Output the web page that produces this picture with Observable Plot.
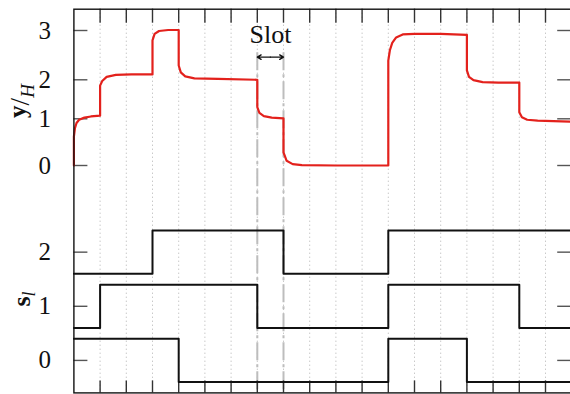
<!DOCTYPE html>
<html><head><meta charset="utf-8">
<script src="https://cdn.jsdelivr.net/npm/d3@7"></script>
<script src="https://cdn.jsdelivr.net/npm/@observablehq/plot@0.6"></script>
<style>
html,body{margin:0;padding:0;background:#fff;overflow:hidden;}
#chart{width:570px;height:394px;overflow:hidden;}
#chart svg{max-width:none !important;}
</style></head><body><div id="chart"></div>
<script>
// Slot boundaries (x in slot units)
const slotEdges = [0,1,2,3,4,5,6,7,8,9,10,11,12,13,14,15,16,17,18,19];
const gridTicks = [1,2,3,4,5,6,7,8,9,10,11,12,13,14,15,16,17,18];
// switching states per slot for s_0, s_1, s_2
const s0 = [1,1,1,1,0,0,0,0,0,0,0,0,1,1,1,0,0,0,0];
const s1 = [0,1,1,1,1,1,1,0,0,0,0,0,1,1,1,1,1,0,0];
const s2 = [0,0,0,1,1,1,1,1,0,0,0,0,1,1,1,1,1,1,1];
// normalised response y/H
const respX = [0,0,0.04,0.1,0.2,0.4,0.65,1, 1,1.08,1.25,1.6,2.2,3, 3,3.08,3.25,3.6,4,
  4,4.08,4.25,4.6,5.5,7, 7,7.08,7.25,7.55,8, 8,8.12,8.35,8.7,10,12,
  12,12.06,12.15,12.3,12.55,13,14,15, 15,15.08,15.25,15.6,16.2,17, 17,17.1,17.3,17.7,18.3,19];
const respY = [0,0.62,0.8,0.91,0.98,1.03,1.06,1.08, 1.85,1.97,2.06,2.1,2.11,2.11, 2.8,2.93,2.99,3.01,3.01,
  2.29,2.15,2.07,2.03,2.02,2.0, 1.3,1.15,1.07,1.03,1.01, 0.28,0.1,0.03,0.01,0,0,
  2.39,2.6,2.75,2.86,2.92,2.93,2.93,2.91, 2.19,2.06,1.99,1.94,1.93,1.93, 1.17,1.04,0.98,0.96,0.95,0.94];
const yTicks = [0,1,2,3];
const sTicks = [0,1,2];
const slotMarks = [7,8];
const slotLabel = "Slot";

const sOffset = -5;      // lower panel placed below upper panel on the shared axis
const sAmp = 0.4;

const response = respX.map((x,i)=>({x, y: respY[i]}));
const switches = [];
[s0,s1,s2].forEach((arr,l)=>{
  slotEdges.forEach((x,i)=>{
    const st = arr[Math.min(i, arr.length-1)];
    switches.push({l, x, y: sOffset + l + (st ? sAmp : -sAmp)});
  });
});
const sTickVals = sTicks.map(v=>v+sOffset);
const allTicks = [...yTicks, ...sTickVals];

const W = 572, H = 394;
const mL = 73.4, mR = 0.8, mT = 8.7, mB = 1.6;
const fw = W - mL - mR, fh = H - mT - mB;
const FONT = "'Liberation Serif', 'Times New Roman', serif";

const chart = Plot.plot({
  width: W, height: H,
  marginLeft: mL, marginRight: mR, marginTop: mT, marginBottom: mB,
  style: {fontFamily: FONT, background: "#fff", maxWidth: "none"},
  x: {domain: [0,19], axis: null},
  y: {type: "linear", domain: [-5.6, -2.6, 0, 1, 2, 3, 3.43],
      range: [392.4, 230, 165, 118.3, 79.3, 30, 8.7], axis: null},
  marks: [
    Plot.ruleX(gridTicks, {x: d=>d, stroke: "#b0b0b0", strokeWidth: 1, strokeDasharray: "1,3"}),
    Plot.ruleX(slotMarks, {x: d=>d, y1: 2.55, y2: -5.6, stroke: "#bdbdbd", strokeWidth: 2, strokeDasharray: "18,4,3,4"}),
    // y ticks inside (left and right)
    Plot.tickY(allTicks, {y: d=>d, insetRight: fw - 14, stroke: "#555", strokeWidth: 1.4}),
    Plot.tickY(allTicks, {y: d=>d, insetLeft: fw - 14, stroke: "#555", strokeWidth: 1.4}),
    // x ticks inside (top and bottom)
    Plot.tickX(gridTicks, {x: d=>d, insetBottom: fh - 14, stroke: "#333", strokeWidth: 1.4}),
    Plot.tickX(gridTicks, {x: d=>d, insetTop: fh - 12, stroke: "#333", strokeWidth: 1.4}),
    // tick labels
    Plot.text(yTicks, {y: d=>d, frameAnchor: "left", dx: -23, textAnchor: "end", text: d=>String(d), fontSize: 25, fontFamily: FONT, fill: "#111"}),
    Plot.text(sTickVals, {y: d=>d, frameAnchor: "left", dx: -23, textAnchor: "end", text: d=>String(d - sOffset), fontSize: 25, fontFamily: FONT, fill: "#111"}),
    // switching signals
    Plot.line(switches, {x: "x", y: "y", z: "l", curve: "step-after", stroke: "#111", strokeWidth: 2}),
    // response
    Plot.line(response, {x: "x", y: "y", stroke: "#e3211c", strokeWidth: 2.2}),
    // slot annotation
    Plot.arrow([slotMarks], {x1: d=>(d[0]+d[1])/2, x2: d=>d[0], y1: 2.46, y2: 2.46, stroke: "#111", strokeWidth: 1.4, headLength: 7, insetEnd: 0}),
    Plot.arrow([slotMarks], {x1: d=>(d[0]+d[1])/2, x2: d=>d[1], y1: 2.46, y2: 2.46, stroke: "#111", strokeWidth: 1.4, headLength: 7, insetEnd: 0}),
    Plot.text([slotMarks], {x: d=>(d[0]+d[1])/2, y: 2.92, text: () => slotLabel, fontSize: 26, fontFamily: FONT, fill: "#111"}),
    // frame (left, top, bottom; right border lies outside the window)
    Plot.frame({stroke: "#111", strokeWidth: 1.4})
  ]
});
document.getElementById("chart").appendChild(chart);

// axis titles with rich formatting
const svg = d3.select(chart);
const t1 = svg.append("text")
  .attr("transform", "translate(29,101) rotate(-90)")
  .attr("text-anchor", "middle")
  .attr("font-family", FONT)
  .attr("font-size", 25).attr("fill", "#111");
t1.append("tspan").attr("font-weight", "bold").attr("dy", "-0.12em").text("y");
t1.append("tspan").attr("dy", "0.12em").attr("font-size", 27).text("/");
t1.append("tspan").attr("font-style", "italic").attr("font-size", 19).attr("dy", "0.25em").text("H");

const t2 = svg.append("text")
  .attr("transform", "translate(30,299) rotate(-90)")
  .attr("text-anchor", "middle")
  .attr("font-family", FONT)
  .attr("font-size", 26).attr("fill", "#111");
t2.append("tspan").attr("font-weight", "bold").text("s");
t2.append("tspan").attr("font-style", "italic").attr("font-size", 18).attr("dy", "0.3em").text("l");
</script>
</body></html>
